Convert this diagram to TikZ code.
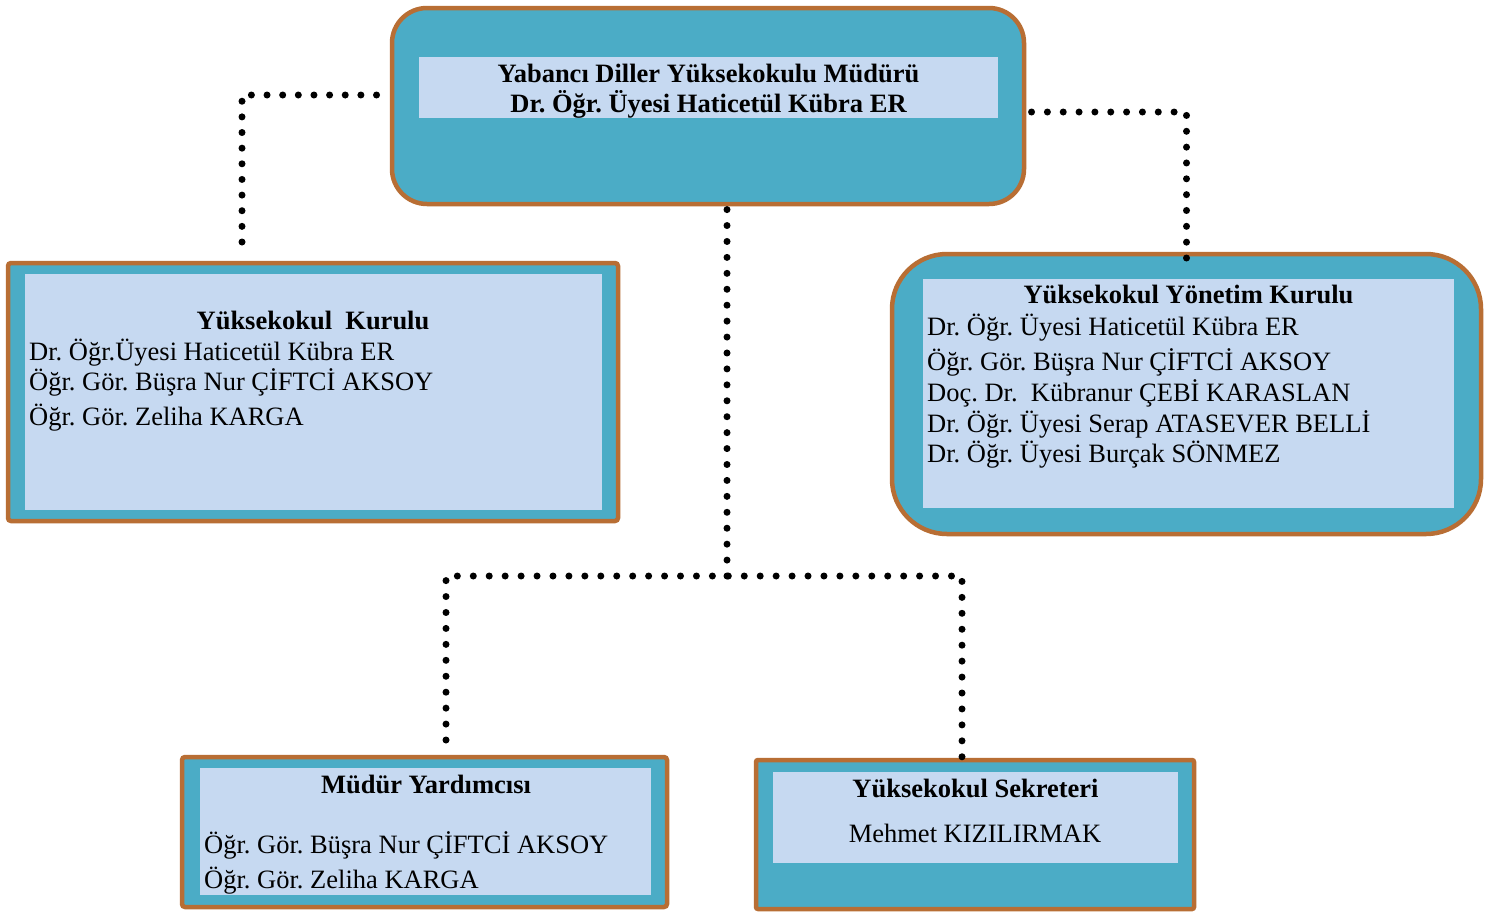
\documentclass[tikz,border=0pt]{standalone}
\usepackage{fontspec}
\setmainfont{Liberation Serif}
\definecolor{teal}{RGB}{75,172,198}
\definecolor{lightbox}{RGB}{198,217,241}
\definecolor{rim}{RGB}{184,110,52}
\frenchspacing
\begin{document}
\begin{tikzpicture}[x=1pt,y={(0pt,-1pt)},
  every node/.style={font=\fontsize{26.5}{30}\selectfont},
  outerbox/.style={draw=rim,fill=teal,line width=4.5pt,inner sep=0pt,outer sep=0pt},
  innerbox/.style={fill=lightbox,inner sep=0pt},
  ctext/.style={anchor=base,inner sep=0pt},
  ltext/.style={anchor=base west,inner sep=0pt},
  ttl/.style={ctext,font=\fontsize{26.5}{30}\selectfont\bfseries},
  dotline/.style={line width=7pt,line cap=round,dash pattern=on 0pt off #1},
  dotline/.default=15.93pt]
\useasboundingbox (0,0) rectangle (1485,911);
\fill[white] (0,0) rectangle (1485,911);

% top box
\node[outerbox,rounded corners=35pt,minimum width=632pt,minimum height=196pt] (top) at (708,106) {};
\node[innerbox,minimum width=579pt,minimum height=61pt] (topin) at (708.5,87.5) {};
\node[ttl] (t1) at (708.5,82) {Yabancı Diller Yüksekokulu Müdürü};
\node[ttl] (t2) at (708.5,112) {Dr. Öğr. Üyesi Haticetül Kübra ER};

% left box
\node[outerbox,rounded corners=3pt,minimum width=610pt,minimum height=258pt] (kurul) at (313,392) {};
\node[innerbox,minimum width=577pt,minimum height=236pt] (kurulin) at (313.5,392) {};
\node[ttl] (k0) at (313,329) {Yüksekokul\ \ Kurulu};
\node[ltext] (k1) at (29,360) {Dr. Öğr.Üyesi Haticetül Kübra ER};
\node[ltext] (k2) at (29,390) {Öğr. Gör. Büşra Nur ÇİFTCİ AKSOY};
\node[ltext] (k3) at (29,425) {Öğr. Gör. Zeliha KARGA};

% right box
\node[outerbox,rounded corners=55pt,minimum width=589pt,minimum height=280pt] (yon) at (1186.5,394) {};
\node[innerbox,minimum width=531pt,minimum height=229pt] (yonin) at (1188.5,393.5) {};
\node[ttl] (y0) at (1188.5,303) {Yüksekokul Yönetim Kurulu};
\node[ltext] (y1) at (927,335) {Dr. Öğr. Üyesi Haticetül Kübra ER};
\node[ltext] (y2) at (927,370) {Öğr. Gör. Büşra Nur ÇİFTCİ AKSOY};
\node[ltext] (y3) at (927,401) {Doç. Dr.\ \ Kübranur ÇEBİ KARASLAN};
\node[ltext] (y4) at (927,432) {Dr. Öğr. Üyesi Serap ATASEVER BELLİ};
\node[ltext] (y5) at (927,462) {Dr. Öğr. Üyesi Burçak SÖNMEZ};

% bottom-left box
\node[outerbox,rounded corners=3pt,minimum width=485pt,minimum height=150pt] (yard) at (424.5,832) {};
\node[innerbox,minimum width=451pt,minimum height=127pt] (yardin) at (425.5,831.5) {};
\node[ttl] (m0) at (426,793) {Müdür Yardımcısı};
\node[ltext] (m1) at (204,853) {Öğr. Gör. Büşra Nur ÇİFTCİ AKSOY};
\node[ltext] (m2) at (204,888) {Öğr. Gör. Zeliha KARGA};

% bottom-right box
\node[outerbox,rounded corners=2pt,minimum width=438pt,minimum height=149pt] (sek) at (975,834.5) {};
\node[innerbox,minimum width=405pt,minimum height=91pt] (sekin) at (975.5,817.5) {};
\node[ttl] (s0) at (975.5,797) {Yüksekokul Sekreteri};
\node[ctext] (s1) at (975,842) {Mehmet KIZILIRMAK};

% connectors
\coordinate (lend) at (242,242);
\coordinate (jl) at (446,576);
\coordinate (jr) at (962,576);
\coordinate (jc) at (727,576);
\coordinate (yardtop) at (446,740);
\coordinate (sektop) at (962,758);
\draw[dotline=15.64pt] (lend) |- ([shift={(-14pt,11pt)}]top.west);
\draw[dotline=15.84pt] ([yshift=-4pt]yon.north) |- ([shift={(6pt,-6pt)}]top.east);
\draw[dotline] (jc) -- ([shift={(19pt,-4pt)}]top.south);
\draw[dotline=15.94pt] (yardtop) -- (jl) -- (jr) -- (sektop);
\end{tikzpicture}
\end{document}
